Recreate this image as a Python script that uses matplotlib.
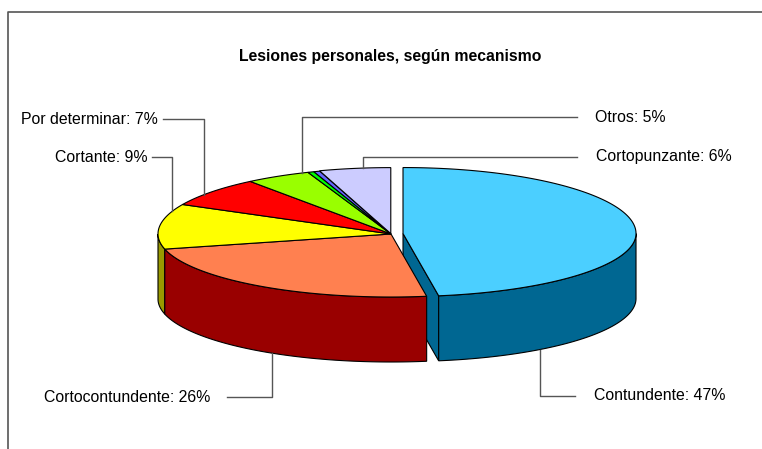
import numpy as np
import matplotlib
matplotlib.use("Agg")
import matplotlib.pyplot as plt
from matplotlib.patches import Polygon

plt.rcParams['font.family'] = ['Liberation Sans', 'DejaVu Sans']

# ---- data ----
categories = ['Contundente', 'Cortocontundente', 'Cortante', 'Por determinar',
              'Otros', 'Sin dato 1', 'Sin dato 2', 'Cortopunzante']
values = [47, 26, 9, 7, 5, 0.5, 0.5, 6]
show_label = [True, True, True, True, True, False, False, True]
top_colors = ['#4BCFFF', '#FF8050', '#FFFF00', '#FF0000', '#99FF00', '#00FF00', '#6666FF', '#CCCCFF']
side_colors = ['#006792', '#990000', '#999900', '#990000', '#5C9900', '#009900', '#3333AA', '#7A7A99']
explode = [0.052, 0, 0, 0, 0, 0, 0, 0.006]

# ---- layout / projection style ----
W, H = 762, 449
CX, CY, RX = 391.0, 234.0, 233.0
RY_BACK, RY_FRONT, DEPTH = 66.0, 63.0, 65.0
K_BACK, K_FRONT = 0.82, 0.7   # angular foreshortening of the 3-D view

fig = plt.figure(figsize=(W / 100, H / 100), dpi=100)
ax = fig.add_axes([0, 0, 1, 1])
ax.set_xlim(0, W)
ax.set_ylim(H, 0)
ax.axis('off')

total = float(sum(values))
bounds = np.concatenate([[0], np.cumsum(values)]) / total * 360.0


def view_angle(theta):
    t = np.radians(theta)
    c = np.cos(t)
    k = np.where(c >= 0, K_BACK, K_FRONT)
    return np.arctan2(k * np.sin(t), c)


def proj(theta, r, cx, cy, z=0.0):
    p = view_angle(theta)
    c = np.cos(p)
    ry = np.where(c > 0, RY_BACK, RY_FRONT)
    return cx + RX * r * np.sin(p), cy - ry * r * c + z


def arc(a0, a1, cx, cy, z=0.0):
    n = max(2, int(abs(a1 - a0) * 2) + 2)
    th = np.linspace(a0, a1, n)
    xs, ys = proj(th, 1.0, cx, cy, z)
    return np.column_stack([xs, ys])


side_items = []
top_items = []
centers = []
for i, v in enumerate(values):
    a0, a1 = bounds[i], bounds[i + 1]
    mid = 0.5 * (a0 + a1)
    e = explode[i]
    ex, ey = proj(mid, e, 0, 0)
    cx, cy = CX + float(ex), CY + float(ey)
    centers.append((cx, cy))
    pts = np.vstack([[cx, cy], arc(a0, a1, cx, cy)])
    top_items.append((pts, top_colors[i]))
    s0, s1 = max(a0, 90.0), min(a1, 270.0)
    if s1 > s0:
        up = arc(s0, s1, cx, cy)
        dn = arc(s0, s1, cx, cy, DEPTH)[::-1]
        key = -np.cos(np.radians(0.5 * (s0 + s1)))
        side_items.append((key, np.vstack([up, dn]), side_colors[i]))
    if e > 0.03:
        for ang, is_start in ((a0, True), (a1, False)):
            s = np.sin(np.radians(ang))
            vis = (s < -1e-6) if is_start else (s > 1e-6)
            if vis:
                px, py = proj(ang, 1.0, cx, cy)
                px, py = float(px), float(py)
                poly = np.array([[cx, cy], [px, py], [px, py + DEPTH], [cx, cy + DEPTH]])
                key = -1.0 - 0.5 * np.cos(np.radians(ang))
                side_items.append((key, poly, side_colors[i]))

z = 1
for key, poly, col in sorted(side_items, key=lambda t: t[0]):
    ax.add_patch(Polygon(poly, closed=True, fc=col, ec='black', lw=0.8, zorder=z))
    z += 1
for i, (poly, col) in enumerate(top_items):
    ax.add_patch(Polygon(poly, closed=True, fc=col, ec='black', lw=0.8, zorder=50 + i))

# ---- frame ----
ax.plot([8, 8, W + 10], [H + 10, 12, 12], color='#555555', lw=1.2, zorder=100, clip_on=False)

# ---- title ----
ax.text(390, 57, 'Lesiones personales, según mecanismo', ha='center', va='center',
        fontsize=11.3, fontweight='bold', color='black')

# ---- labels & leader lines ----
# (text x, text y, ha, line start x, elbow x, edge)
label_layout = {
    'Contundente': (594, 396, 'left', 575, 540, 'bottom'),
    'Cortocontundente': (44, 397, 'left', 227, 272, 'bottom'),
    'Cortante': (148, 157, 'right', 152, 172, 'top'),
    'Por determinar': (158, 119, 'right', 163, 204, 'top'),
    'Otros': (595, 117, 'left', 577, 302, 'top'),
    'Cortopunzante': (596, 157, 'left', 577, 363, 'top'),
}
for i, name in enumerate(categories):
    if not show_label[i]:
        continue
    tx, ty, ha, lx, ex_, edge = label_layout[name]
    pct = int(round(values[i] / total * 100))
    ax.text(tx, ty, f'{name}: {pct}%', ha=ha, va='center', fontsize=11.4, color='black')
    cx, cy = centers[i]
    d = np.clip((ex_ - cx) / RX, -1, 1)
    if edge == 'top':
        yend = cy - RY_BACK * np.sqrt(1 - d * d)
    else:
        yend = cy + RY_FRONT * np.sqrt(1 - d * d) + DEPTH
    ax.plot([lx, ex_, ex_], [ty, ty, yend], color='#555555', lw=1.0, zorder=99)

fig.savefig('out.png', dpi=100)
